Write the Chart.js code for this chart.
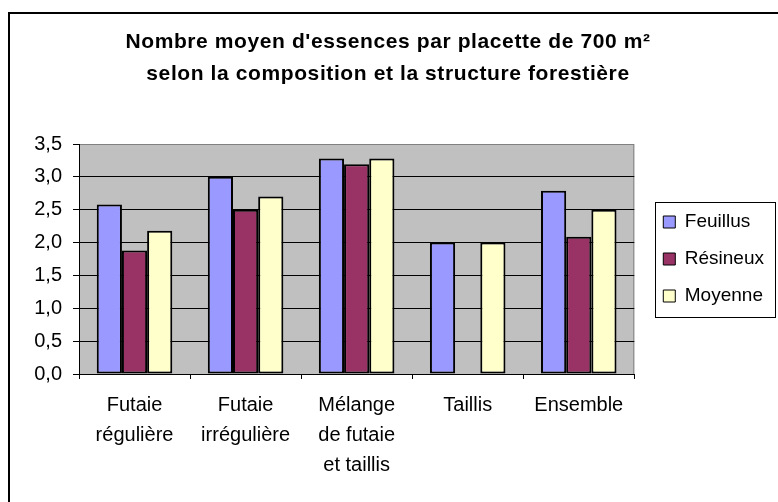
<!DOCTYPE html>
<html><head><meta charset="utf-8">
<script src="https://cdn.jsdelivr.net/npm/chart.js@4/dist/chart.umd.min.js"></script>
<style>html,body{margin:0;padding:0;background:#fff}#wrap{width:778px;height:502px}</style>
</head><body><div id="wrap"><canvas id="c" width="778" height="502"></canvas></div>
<script>
const titleLines = ["Nombre moyen d'essences par placette de 700 m²", "selon la composition et la structure forestière"];
const categories = [["Futaie","régulière"],["Futaie","irrégulière"],["Mélange","de futaie","et taillis"],["Taillis"],["Ensemble"]];
const seriesNames = ["Feuillus","Résineux","Moyenne"];
const feuillus = [2.58, 3.0, 3.28, 2.0, 2.79];
const resineux = [1.88, 2.5, 3.19, null, 2.09];
const moyenne  = [2.18, 2.7, 3.28, 2.0, 2.5];
const yTickLabels = ["0,0","0,5","1,0","1,5","2,0","2,5","3,0","3,5"];

const FONT = '"Liberation Sans", Arial, sans-serif';

const framePlugin = {
  id: 'frame',
  beforeDraw(chart) {
    const ctx = chart.ctx, a = chart.chartArea;
    ctx.save();
    ctx.fillStyle = '#fff';
    ctx.fillRect(0, 0, chart.width, chart.height);
    ctx.strokeStyle = '#000';
    ctx.lineWidth = 2;
    ctx.strokeRect(9, 13, 1000, 1000);
    ctx.fillStyle = '#C0C0C0';
    ctx.fillRect(a.left, a.top, a.right - a.left, a.bottom - a.top);
    ctx.strokeStyle = '#808080';
    ctx.lineWidth = 1;
    ctx.strokeRect(a.left + 0.5, a.top + 0.5, a.right - a.left - 1, a.bottom - a.top);
    // title
    ctx.fillStyle = '#000';
    ctx.font = 'bold 21px ' + FONT;
    ctx.textAlign = 'center';
    ctx.textBaseline = 'alphabetic';
    if ('letterSpacing' in ctx) ctx.letterSpacing = '0.6px';
    ctx.fillText(titleLines[0], 388, 48);
    ctx.fillText(titleLines[1], 388, 80);
    ctx.restore();
  },
  afterDraw(chart) {
    const lg = chart.legend;
    if (!lg || !lg.legendHitBoxes || !lg.legendHitBoxes.length) return;
    const hb = lg.legendHitBoxes;
    const first = hb[0], last = hb[hb.length - 1];
    const ctx = chart.ctx;
    ctx.save();
    ctx.strokeStyle = '#000';
    ctx.lineWidth = 1;
    const x = Math.round(first.left - 8) + 0.5;
    const y = Math.round(first.top - 11) + 0.5;
    const y2 = Math.round(last.top + last.height + 11) + 0.5;
    ctx.strokeRect(x, y, 775.5 - x, y2 - y);
    ctx.restore();
  }
};

new Chart(document.getElementById('c'), {
  type: 'bar',
  data: {
    labels: categories,
    datasets: [
      { label: seriesNames[0], data: feuillus, backgroundColor: '#9999FF' },
      { label: seriesNames[1], data: resineux, backgroundColor: '#993366' },
      { label: seriesNames[2], data: moyenne,  backgroundColor: '#FFFFCC' }
    ].map(d => Object.assign(d, { borderColor: '#000', borderWidth: 2, borderSkipped: false,
      barPercentage: 1, categoryPercentage: 0.68 }))
  },
  options: {
    responsive: false,
    animation: false,
    devicePixelRatio: 1,
    layout: { padding: { top: 144, left: 0, bottom: 0, right: 4 } },
    plugins: {
      title: { display: false },
      tooltip: { enabled: false },
      legend: {
        position: 'right',
        fullSize: false,
        align: 'center',
        labels: {
          boxWidth: 12, boxHeight: 12, padding: 18, color: '#000',
          font: { size: 19, family: FONT },
          generateLabels: (chart) => Chart.defaults.plugins.legend.labels.generateLabels(chart)
            .map(l => Object.assign(l, { lineWidth: 1, strokeStyle: '#000' }))
        }
      }
    },
    scales: {
      x: {
        grid: { display: true, drawOnChartArea: false, drawTicks: true, tickLength: 5, color: '#000', offset: true },
        border: { display: true, color: '#000', width: 1 },
        ticks: { color: '#000', font: { size: 20, family: FONT, lineHeight: 30 / 20 }, padding: 11,
          maxRotation: 0, minRotation: 0, autoSkip: false },
        afterFit: (s) => { s.height = 128; }
      },
      y: {
        min: 0, max: 3.5,
        grid: { color: (c) => (c.tick && c.tick.value >= 3.5) ? 'rgba(0,0,0,0)' : '#000',
          tickColor: '#000', tickLength: 6, lineWidth: 1 },
        border: { display: true, color: '#000', width: 1 },
        ticks: { stepSize: 0.5, color: '#000', padding: 11, font: { size: 20, family: FONT },
          callback: (v, i) => yTickLabels[i] },
        afterFit: (s) => { s.width = 79; }
      },
      yR: {
        type: 'linear', position: 'right', display: true,
        grid: { display: false }, border: { display: false }, ticks: { display: false },
        afterFit: (s) => { s.width = 11; }
      }
    }
  },
  plugins: [framePlugin]
});
</script>
</body></html>
